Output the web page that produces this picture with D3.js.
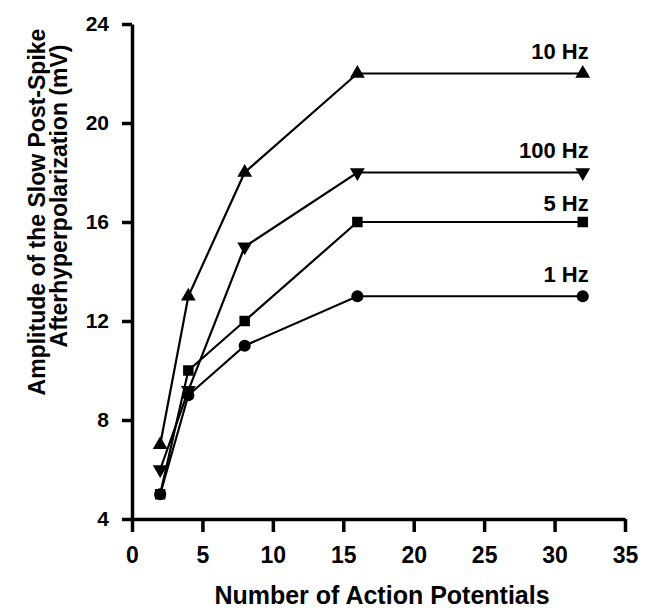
<!DOCTYPE html>
<html>
<head>
<meta charset="utf-8">
<script src="https://cdn.jsdelivr.net/npm/d3@7"></script>
<style>
  body { margin: 0; background: white; }
</style>
</head>
<body>
<script>
const apCounts = [2, 4, 8, 16, 32]
const seriesNames = ['10 Hz', '100 Hz', '5 Hz', '1 Hz']
const hz10 = [7, 13, 18, 22, 22]
const hz100 = [6, 9.2, 15, 18, 18]
const hz5 = [5, 10, 12, 16, 16]
const hz1 = [5, 9, 11, 13, 13]
const xTicks = [0, 5, 10, 15, 20, 25, 30, 35]
const yTicks = [4, 8, 12, 16, 20, 24]

const series = [
    { name: seriesNames[0], values: hz10, symbol: 'up' },
    { name: seriesNames[1], values: hz100, symbol: 'down' },
    { name: seriesNames[2], values: hz5, symbol: 'square' },
    { name: seriesNames[3], values: hz1, symbol: 'circle' }
]

const font = 'Arial, "Liberation Sans", sans-serif'
const margin = { top: 24, right: 29, bottom: 92, left: 132 }
const width = 654 - margin.left - margin.right
const height = 611 - margin.top - margin.bottom

const svg = d3.select("body")
    .append("svg")
    .attr("width", 654)
    .attr("height", 611)
    .style("background", "white")

const g = svg.append("g")
    .attr("transform", `translate(${margin.left}, ${margin.top})`)

const xScale = d3.scaleLinear().domain([0, 35]).range([0, width])
const yScale = d3.scaleLinear().domain([4, 24]).range([height, 0])

// axes
const xAxis = d3.axisBottom(xScale).tickValues(xTicks).tickSize(13).tickSizeOuter(0).tickPadding(15)
const yAxis = d3.axisLeft(yScale).tickValues(yTicks).tickSize(10).tickSizeOuter(0).tickPadding(13)

const gx = g.append("g")
    .attr("transform", `translate(0, ${height})`)
    .call(xAxis)
const gy = g.append("g").call(yAxis)

function styleAxis(ax, size) {
    ax.select(".domain")
        .attr("stroke", "black")
        .attr("stroke-width", 3.5)
    ax.selectAll(".tick line")
        .attr("stroke", "black")
        .attr("stroke-width", 3.5)
    ax.selectAll(".tick text")
        .attr("fill", "black")
        .attr("font-family", font)
        .attr("font-size", size)
        .attr("font-weight", "bold")
        .style("font-weight", "bold")
        .style("font-size", size + "px")
}
styleAxis(gx, 23)
styleAxis(gy, 21)

// lines
const line = d3.line()
    .x((d, i) => xScale(apCounts[i]))
    .y(d => yScale(d))

g.selectAll(".series")
    .data(series)
    .enter()
    .append("path")
    .attr("d", d => line(d.values))
    .attr("fill", "none")
    .attr("stroke", "black")
    .attr("stroke-width", 2.2)

// markers
const symbolMap = {
    up: d3.symbol().type(d3.symbolTriangle).size(95),
    down: d3.symbol().type(d3.symbolTriangle).size(95),
    square: d3.symbol().type(d3.symbolSquare).size(110),
    circle: d3.symbol().type(d3.symbolCircle).size(115)
}

series.forEach(s => {
    g.selectAll(null)
        .data(s.values)
        .enter()
        .append("path")
        .attr("d", symbolMap[s.symbol]())
        .attr("transform", (d, i) => {
            const rot = s.symbol === 'down' ? ' rotate(180)' : ''
            return `translate(${xScale(apCounts[i])}, ${yScale(d)})${rot}`
        })
        .attr("fill", "black")
})

// series labels
const labelOffset = { '10 Hz': 15, '100 Hz': 15, '5 Hz': 11, '1 Hz': 14 }
g.selectAll(".label")
    .data(series)
    .enter()
    .append("text")
    .attr("text-anchor", "end")
    .attr("x", xScale(32) + 6)
    .attr("y", d => yScale(d.values[d.values.length - 1]) - labelOffset[d.name])
    .attr("font-family", font)
    .attr("font-size", 22)
    .attr("font-weight", "bold")
    .text(d => d.name)

// axis titles
svg.append("text")
    .attr("text-anchor", "middle")
    .attr("x", 382)
    .attr("y", 604)
    .attr("font-family", font)
    .attr("font-size", 25)
    .attr("font-weight", "bold")
    .text("Number of Action Potentials")

svg.append("text")
    .attr("text-anchor", "middle")
    .attr("transform", "translate(45, 212) rotate(-90)")
    .attr("font-family", font)
    .attr("font-size", 23)
    .attr("font-weight", "bold")
    .text("Amplitude of the Slow Post-Spike")

svg.append("text")
    .attr("text-anchor", "middle")
    .attr("transform", "translate(67, 196) rotate(-90)")
    .attr("font-family", font)
    .attr("font-size", 23)
    .attr("font-weight", "bold")
    .text("Afterhyperpolarization (mV)")
</script>
</body>
</html>
